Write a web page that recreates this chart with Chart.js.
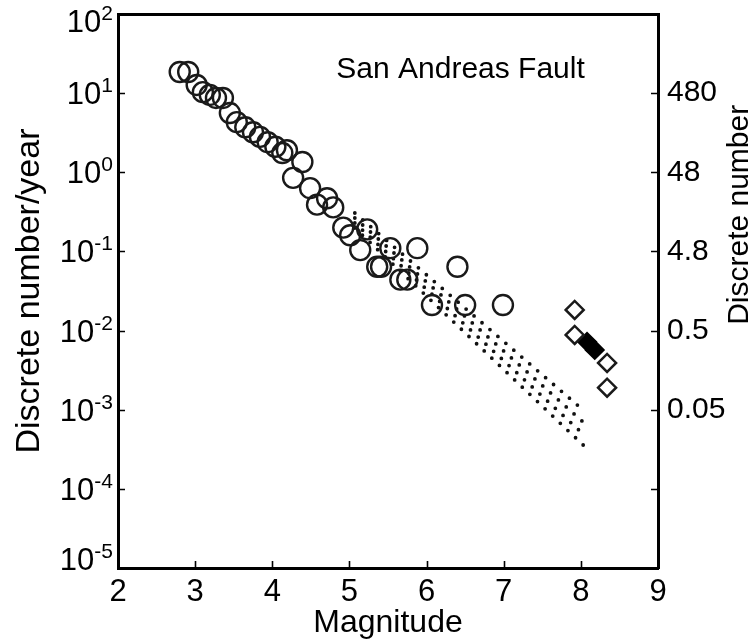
<!DOCTYPE html>
<html><head><meta charset="utf-8">
<script src="https://cdn.jsdelivr.net/npm/chart.js@4.4.1/dist/chart.umd.min.js"></script>
<style>html,body{margin:0;padding:0;background:#fff}canvas{display:block}</style>
</head><body>
<canvas id="c" width="755" height="643"></canvas>
<script>
// ---- data ----
const magnitudeTicks = [2, 3, 4, 5, 6, 7, 8, 9];
const rateExponents = [2, 1, 0, -1, -2, -3, -4, -5];
const rightTickExponents = [1, 0, -1, -2, -3, -4];
const rightTickLabels = ['480', '48', '4.8', '0.5', '0.05', ''];

const circleMagnitudes = [2.80, 2.91, 3.02, 3.10, 3.19, 3.27, 3.36, 3.45, 3.54, 3.65, 3.75, 3.84, 3.94, 4.04, 4.13, 4.19, 4.39, 4.27, 4.49, 4.58, 4.71, 4.79, 4.92, 5.01, 5.23, 5.14, 5.36, 5.41, 5.53, 5.88, 5.66, 5.75, 6.07, 6.40, 6.50, 6.99];
const circleRates = [18.5, 18.5, 12.7, 10.3, 9.5, 8.7, 8.7, 5.6, 4.3, 3.7, 3.2, 2.8, 2.4, 2.1, 1.75, 1.9, 1.35, 0.85, 0.63, 0.39, 0.47, 0.36, 0.20, 0.16, 0.19, 0.104, 0.064, 0.064, 0.110, 0.110, 0.044, 0.044, 0.021, 0.064, 0.021, 0.021];

const openDiamondMagnitudes = [7.92, 7.92, 8.34, 8.34];
const openDiamondRates = [0.0182, 0.0088, 0.0039, 0.0019];
const filledDiamondMagnitudes = [8.08, 8.18];
const filledDiamondRates = [0.0072, 0.0057];

const fitStartMagnitudes = [5.07, 5.07, 5.07, 5.07];
const fitEndMagnitudes = [8.03, 8.03, 8.03, 8.03];
const fitStartRates = [0.306, 0.2645, 0.2286, 0.1977];
const fitEndRates = [9.9e-4, 6.99e-4, 4.93e-4, 3.58e-4];

const annotationText = 'San Andreas Fault';
const annotationPos = [4.83, 15.5];
const xTitle = 'Magnitude';
const yTitle = 'Discrete number/year';
const y2Title = 'Discrete number';
const y2TitleCenterRate = 0.29;

// ---- chart ----
const FONT = '"Liberation Sans", Arial, Helvetica, sans-serif';
const pts = (xs, ys) => xs.map((x, i) => ({x: x, y: ys[i]}));

const fitSets = fitStartRates.map((r, i) => ({
  type: 'scatter',
  data: [{x: fitStartMagnitudes[i], y: r}, {x: fitEndMagnitudes[i], y: fitEndRates[i]}],
  showLine: true,
  borderColor: '#111',
  borderWidth: 3.8,
  borderDash: [0, 10.5],
  borderCapStyle: 'round',
  pointRadius: 0,
  yAxisID: 'y'
}));

const overlay = {
  id: 'overlay',
  afterDraw(chart) {
    const {ctx, chartArea: a, scales: {x, y, y2}} = chart;
    ctx.save();
    ctx.strokeStyle = '#000';
    ctx.lineWidth = 1.6;
    ctx.beginPath();
    magnitudeTicks.slice(1, -1).forEach(v => {
      const px = Math.round(x.getPixelForValue(v)) + 0.5;
      ctx.moveTo(px, a.bottom); ctx.lineTo(px, a.bottom - 7);
    });
    rateExponents.slice(1, -1).forEach(e => {
      const py = Math.round(y.getPixelForValue(Math.pow(10, e))) + 0.5;
      ctx.moveTo(a.left, py); ctx.lineTo(a.left + 7, py);
    });
    rightTickExponents.forEach(e => {
      const py = Math.round(y2.getPixelForValue(Math.pow(10, e))) + 0.5;
      ctx.moveTo(a.right, py); ctx.lineTo(a.right - 7, py);
    });
    ctx.stroke();

    ctx.fillStyle = '#000';
    // left tick labels: 10 with a raised exponent
    ctx.textBaseline = 'alphabetic';
    const rightEdge = a.left - 5;
    rateExponents.forEach((e, i) => {
      let py = y.getPixelForValue(Math.pow(10, e));
      if (i === 0) py += 7;
      if (i === rateExponents.length - 1) py -= 9;
      const base = py + 11;
      const expText = String(e);
      ctx.font = '21px ' + FONT;
      const ew = ctx.measureText(expText).width;
      ctx.textAlign = 'right';
      ctx.fillText(expText, rightEdge, base - 12);
      ctx.font = '31px ' + FONT;
      ctx.fillText('10', rightEdge - ew, base);
    });

    ctx.font = '30px ' + FONT;
    ctx.textAlign = 'left';
    ctx.fillText(annotationText, x.getPixelForValue(annotationPos[0]), y.getPixelForValue(annotationPos[1]));
    // right title, reading bottom to top
    ctx.translate(740, y.getPixelForValue(y2TitleCenterRate));
    ctx.rotate(-Math.PI / 2);
    ctx.font = '30px ' + FONT;
    ctx.textAlign = 'center';
    ctx.textBaseline = 'middle';
    ctx.fillText(y2Title, 0, 0);
    ctx.restore();
  }
};

const border = {display: true, color: '#000', width: 3};

new Chart(document.getElementById('c'), {
  type: 'scatter',
  data: {
    datasets: [
      {
        data: pts(circleMagnitudes, circleRates),
        pointStyle: 'circle', pointRadius: 10, pointBorderWidth: 2.4,
        borderColor: '#1a1a1a', backgroundColor: 'rgba(0,0,0,0)', yAxisID: 'y'
      },
      {
        data: pts(openDiamondMagnitudes, openDiamondRates),
        pointStyle: 'rectRot', pointRadius: 9, pointBorderWidth: 2.5,
        borderColor: '#1a1a1a', backgroundColor: 'rgba(0,0,0,0)', yAxisID: 'y'
      },
      {
        data: pts(filledDiamondMagnitudes, filledDiamondRates),
        pointStyle: 'rectRot', pointRadius: 9, pointBorderWidth: 2,
        borderColor: '#000', backgroundColor: '#000', yAxisID: 'y'
      },
      ...fitSets
    ]
  },
  options: {
    responsive: false,
    animation: false,
    events: [],
    layout: {padding: 0},
    plugins: {legend: {display: false}, tooltip: {enabled: false}},
    scales: {
      x: {
        type: 'linear', position: 'bottom', min: 2, max: 9,
        afterBuildTicks: s => { s.ticks = magnitudeTicks.map(v => ({value: v})); },
        afterFit: s => { s.height = 75; s.paddingLeft = 0; s.paddingRight = 0; },
        grid: {display: false, drawTicks: false},
        border: border,
        ticks: {autoSkip: false, maxRotation: 0, color: '#000', padding: 6, font: {family: FONT, size: 31}},
        title: {display: true, text: xTitle, color: '#000', font: {family: FONT, size: 32}, padding: {top: 0, bottom: 1}}
      },
      xTop: {
        type: 'linear', position: 'top', min: 2, max: 9,
        afterFit: s => { s.height = 14; s.paddingLeft = 0; s.paddingRight = 0; },
        grid: {display: false, drawTicks: false},
        border: border,
        ticks: {display: false}
      },
      y: {
        type: 'logarithmic', position: 'left', min: 1e-5, max: 1e2,
        afterBuildTicks: s => { s.ticks = rateExponents.map(e => ({value: Math.pow(10, e)})); },
        afterFit: s => { s.width = 118; s.paddingTop = 0; s.paddingBottom = 0; },
        grid: {display: false, drawTicks: false},
        border: border,
        ticks: {display: false},
        title: {display: true, text: yTitle, color: '#000', font: {family: FONT, size: 34}, padding: {top: 9, bottom: 0}}
      },
      y2: {
        type: 'logarithmic', position: 'right', min: 1e-5, max: 1e2,
        afterBuildTicks: s => { s.ticks = rightTickExponents.map(e => ({value: Math.pow(10, e)})); },
        afterFit: s => { s.width = 97; s.paddingTop = 0; s.paddingBottom = 0; },
        grid: {display: false, drawTicks: false},
        border: border,
        ticks: {
          autoSkip: false, color: '#000', padding: 9, font: {family: FONT, size: 30},
          callback: v => rightTickLabels[rightTickExponents.indexOf(Math.round(Math.log10(v)))]
        }
      }
    }
  },
  plugins: [overlay]
});
</script>
</body></html>
